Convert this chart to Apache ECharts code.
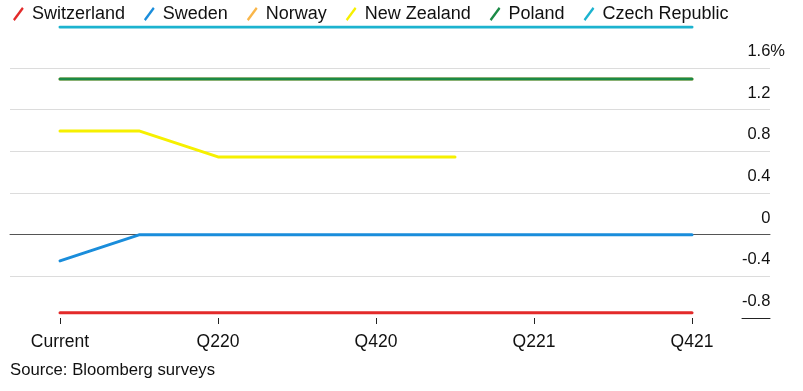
<!DOCTYPE html>
<html>
<head>
<meta charset="utf-8">
<script src="https://cdn.jsdelivr.net/npm/echarts@6/dist/echarts.min.js"></script>
<style>
html,body{margin:0;padding:0;background:#fff;}
#c{width:803px;height:391px;}
</style>
</head>
<body>
<div id="c"></div>
<script>
const categories = ['Current','Q120','Q220','Q320','Q420','Q121','Q221','Q321','Q421'];
const switzerland = [-0.75,-0.75,-0.75,-0.75,-0.75,-0.75,-0.75,-0.75,-0.75];
const sweden = [-0.25,0,0,0,0,0,0,0,0];
const norway = [1.5,1.5,1.5,1.5,1.5,1.5,1.5,1.5,1.5];
const newZealand = [1.0,1.0,0.75,0.75,0.75,0.75,null,null,null];
const poland = [1.5,1.5,1.5,1.5,1.5,1.5,1.5,1.5,1.5];
const czech = [2.0,2.0,2.0,2.0,2.0,2.0,2.0,2.0,2.0];
const yTicks = [-0.8,-0.4,0,0.4,0.8,1.2,1.6];
const seriesNames = ['Switzerland','Sweden','Norway','New Zealand','Poland','Czech Republic'];
const seriesData = [switzerland, sweden, norway, newZealand, poland, czech];
const colors = ['#e32a2a','#1a8ddb','#f9b64a','#f6f000','#1b8a46','#1cb3cf'];

const FONT = '"Liberation Sans", Arial, sans-serif';
const chart = echarts.init(document.getElementById('c'));
const slash = 'path://M0,11.4 L8.4,0 L10,1.6 L1.6,13 Z';

const option = {
  animation: false,
  color: colors,
  textStyle: {fontFamily: FONT, color: '#111'},
  legend: {
    left: 8, top: 0,
    itemWidth: 11, itemHeight: 14, itemGap: 19,
    icon: slash,
    textStyle: {fontFamily: FONT, fontSize: 18, color: '#111', padding: [0,0,0,3]},
    data: seriesNames.map((n) => ({name: n, icon: slash}))
  },
  grid: [
    {left: 10, right: 33, top: 68, bottom: 73},
    {left: 60, right: 111, top: 27, bottom: 73},
    {left: 742, right: 33, top: 68, bottom: 73}
  ],
  xAxis: [
    {gridIndex: 0, type: 'value', min: 0, max: 1, show: true,
     axisLine: {show: true, onZero: true, lineStyle: {color: '#555', width: 1}},
     axisTick: {show: false}, axisLabel: {show: false}, splitLine: {show: false}},
    {gridIndex: 1, type: 'category', data: categories, boundaryGap: false,
     axisLine: {show: false, onZero: false},
     axisTick: {show: true, interval: 1, length: 6, lineStyle: {color: '#222'}},
     axisLabel: {interval: 1, fontFamily: FONT, fontSize: 17.5, color: '#111', margin: 15}},
    {gridIndex: 2, type: 'value', min: 0, max: 1,
     axisLine: {show: true, onZero: false, lineStyle: {color: '#222', width: 1}},
     axisTick: {show: false}, axisLabel: {show: false}, splitLine: {show: false}}
  ],
  yAxis: [
    {gridIndex: 0, type: 'value', min: -0.8, max: 1.6, interval: 0.4, position: 'right',
     axisLine: {show: false}, axisTick: {show: false},
     splitLine: {show: true, showMinLine: false, lineStyle: {color: '#dcdcdc', width: 1}},
     axisLabel: {
       inside: true, align: 'right', verticalAlign: 'bottom', margin: -15,
       padding: [0,0,8,0],
       formatter: function (v) {
         const r = Math.round(v * 10) / 10;
         if (yTicks.indexOf(r) < 0) return '';
         const txt = (r === 0 ? '0' : r.toFixed(1));
         if (r === 1.6) return '{n|' + txt + '}{p|%}';
         return '{n|' + txt + '}{h|%}';
       },
       rich: {
         n: {fontFamily: FONT, fontSize: 16.5, color: '#111', lineHeight: 17},
         p: {fontFamily: FONT, fontSize: 16.5, color: '#111', lineHeight: 17},
         h: {fontFamily: FONT, fontSize: 16.5, color: 'rgba(0,0,0,0)', lineHeight: 17}
       }
     }},
    {gridIndex: 1, type: 'value', min: -0.8, max: 2.0, show: false,
     splitLine: {show: false}},
    {gridIndex: 2, type: 'value', min: -0.8, max: 1.6, show: false,
     splitLine: {show: false}}
  ],
  series: seriesNames.map((n, i) => ({
    name: n, type: 'line', xAxisIndex: 1, yAxisIndex: 1,
    data: seriesData[i], symbol: 'none', connectNulls: false,
    lineStyle: {width: 3, color: colors[i], cap: 'round', join: 'round'},
    itemStyle: {color: colors[i]},
    z: 3 + i
  })),
  graphic: [
    {type: 'text', left: 10, top: 362,
     style: {text: 'Source: Bloomberg surveys', font: '16.7px ' + FONT, fill: '#111'}}
  ]
};
chart.setOption(option);
</script>
</body>
</html>
